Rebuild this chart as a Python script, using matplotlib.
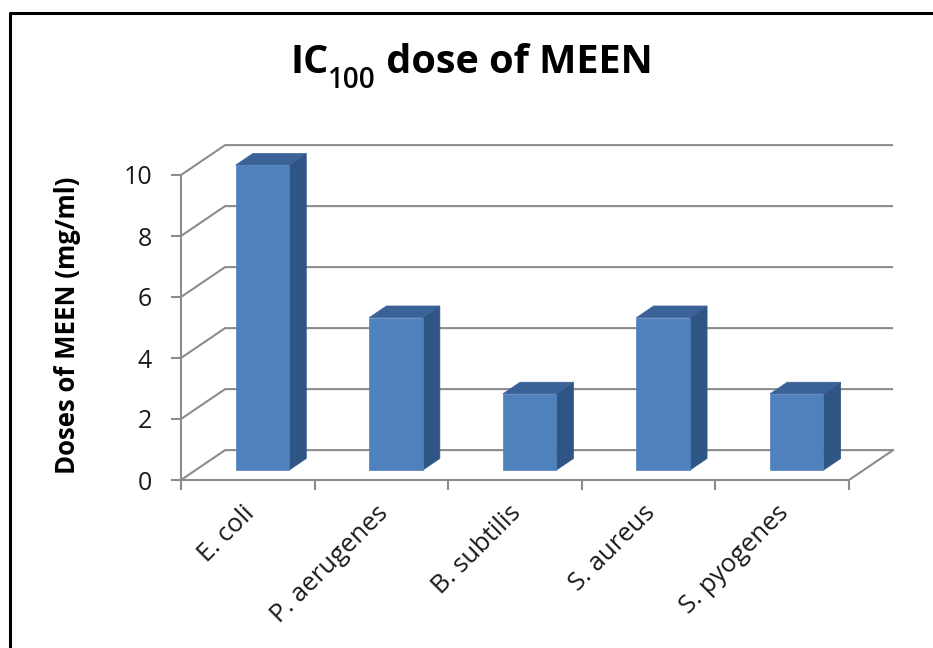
import matplotlib.pyplot as plt
from matplotlib.patches import Polygon
from matplotlib.lines import Line2D

categories = ["E. coli", "P. aerugenes", "B. subtilis", "S. aureus", "S. pyogenes"]
doses = [10, 5, 2.5, 5, 2.5]
y_ticks = [0, 2, 4, 6, 8, 10]

plt.rcParams['font.family'] = ['Open Sans', 'DejaVu Sans']

W, H = 933, 648
fig = plt.figure(figsize=(W / 100, H / 100), dpi=100)

# front plane of the fake 3d box, in pixels
px0, px1, py0, py1 = 181, 849, 480, 175
ax = fig.add_axes([px0 / W, 1 - py0 / H, (px1 - px0) / W, (py0 - py1) / H])
n = len(categories)
ax.set_xlim(0, n)
ax.set_ylim(0, 10)

# depth offset of the box in data units, bars sit between f0 and f1 of it
ddx, ddy = 0.33, 0.98
f0, f1 = 0.33, 0.72
grid = '#8c8c8c'

# back wall gridlines and left wall diagonals
for v in y_ticks:
    ax.plot([0, ddx, n + ddx], [v, v + ddy, v + ddy], color=grid, lw=1.5,
            clip_on=False, zorder=1, solid_capstyle='butt')
ax.plot([n, n + ddx], [0, ddy], color=grid, lw=1.5, clip_on=False, zorder=1)

front_c = '#4F81BD'
side_c = '#2F5584'
top_c = '#3A6297'
fd = f1 - f0
for i, d in enumerate(doses):
    xl = i + 0.3 + f0 * ddx
    xr = xl + 0.4
    yb = f0 * ddy
    yt = yb + d
    sx, sy = fd * ddx, fd * ddy
    front = [(xl, yb), (xr, yb), (xr, yt), (xl, yt)]
    side = [(xr, yb), (xr + sx, yb + sy), (xr + sx, yt + sy), (xr, yt)]
    top = [(xl, yt), (xr, yt), (xr + sx, yt + sy), (xl + sx, yt + sy)]
    for pts, c in [(side, side_c), (top, top_c), (front, front_c)]:
        ax.add_patch(Polygon(pts, closed=True, facecolor=c, edgecolor=c,
                             lw=0.5, clip_on=False, zorder=3))

for s in ['top', 'right']:
    ax.spines[s].set_visible(False)
for s in ['left', 'bottom']:
    ax.spines[s].set_color(grid)
    ax.spines[s].set_linewidth(1.5)
    ax.spines[s].set_zorder(2)

ax.set_yticks(y_ticks)
ax.set_xticks(range(n + 1))
ax.set_xticklabels([])
ax.tick_params(axis='both', which='major', direction='out', length=7,
               width=1.5, color=grid)
ax.tick_params(axis='y', pad=14, labelsize=18, labelcolor='#1a1a1a')

# category names, rotated under each slot
for i, name in enumerate(categories):
    ax.annotate(name, xy=(i + 0.5, 0), xytext=(-4.3, -15),
                textcoords='offset points', fontsize=18.5, color='#1a1a1a',
                rotation=45, ha='right', va='top', rotation_mode='anchor',
                annotation_clip=False)

fig.text(68 / W, 1 - 325 / H, 'Doses of MEEN (mg/ml)', fontsize=18.5,
         fontweight='bold', rotation=90, ha='center', va='center')

# title with a real subscript, built from chained texts
t1 = fig.text(290 / W, 1 - 73 / H, 'IC', fontsize=28.5, fontweight='bold',
              ha='left', va='baseline')
t2 = ax.annotate('100', xy=(1, 0), xycoords=t1, xytext=(0, -4),
                 textcoords='offset points', fontsize=20, fontweight='semibold',
                 ha='left', va='baseline', annotation_clip=False)
sub_w = t2.get_window_extent(fig.canvas.get_renderer()).width * 72 / 100
ax.annotate(' dose of MEEN', xy=(1, 0), xycoords=t1, xytext=(sub_w, 0),
            textcoords='offset points', fontsize=28.5, fontweight='bold',
            ha='left', va='bottom', annotation_clip=False)

# outer frame (only the left and top edges are visible)
fig.add_artist(Line2D([10 / W, 10 / W, 1], [0, 1 - 13 / H, 1 - 13 / H],
                      transform=fig.transFigure, color='black', lw=2.2))

fig.savefig('out.png', dpi=100)
